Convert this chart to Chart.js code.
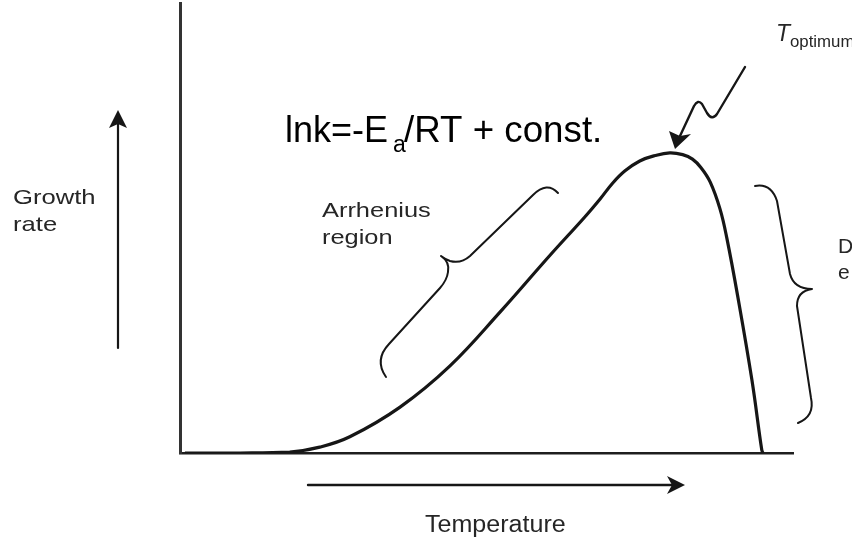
<!DOCTYPE html>
<html>
<head>
<meta charset="utf-8">
<script src="https://cdn.jsdelivr.net/npm/chart.js@4.4.1/dist/chart.umd.min.js"></script>
<style>
html,body{margin:0;padding:0;background:#fff;}
#wrap{width:852px;height:540px;position:relative;}
</style>
</head>
<body>
<div id="wrap"><canvas id="c" width="852" height="540"></canvas></div>
<script>
// ---- data (arbitrary units) ----
const temperature = [0.8, 9.8, 17.9, 22.8, 27.7, 35.9, 44.0, 52.2, 60.4, 66.0, 68.5, 70.6, 72.6, 75.0, 77.5, 79.9, 82.0, 83.6, 85.0, 86.5, 88.1, 89.2, 91.0, 93.3, 94.9, 95.1];
const growthRate  = [0.0, 0.0, 0.2, 1.3, 3.6, 10.2, 19.3, 31.3, 44.0, 52.4, 56.4, 60.0, 62.7, 64.9, 66.1, 66.7, 66.3, 65.3, 63.4, 60.2, 54.2, 47.8, 34.7, 16.2, 0.7, 0.0];
const xAxisLabel = "Temperature";
const yAxisLabel = ["Growth", "rate"];
const regionLabel = ["Arrhenius", "region"];
const equationParts = ["lnk=-E", "a", "/RT + const."];
const optimumParts = ["T", "optimum"];
const rightLabel = ["D", "e"];

const INK = '#161616';
const SCAN_FONT = '"Liberation Sans", Arial, Helvetica, sans-serif';

function stroke(ctx, fn, w) {
  ctx.save();
  ctx.strokeStyle = INK; ctx.lineWidth = w || 2.2; ctx.lineCap = 'round'; ctx.lineJoin = 'round';
  ctx.beginPath(); fn(ctx); ctx.stroke();
  ctx.restore();
}
function head(ctx, pts) {
  ctx.save(); ctx.fillStyle = INK; ctx.beginPath();
  ctx.moveTo(pts[0][0], pts[0][1]);
  for (let i = 1; i < pts.length; i++) ctx.lineTo(pts[i][0], pts[i][1]);
  ctx.closePath(); ctx.fill(); ctx.restore();
}
function text(ctx, s, x, y, size, opts) {
  opts = opts || {};
  ctx.save();
  ctx.fillStyle = opts.color || '#262626';
  ctx.font = (opts.style || '') + ' ' + size + 'px ' + SCAN_FONT;
  ctx.textBaseline = 'alphabetic';
  ctx.translate(x, y);
  ctx.scale(opts.sx || 1, 1);
  ctx.fillText(s, 0, 0);
  ctx.restore();
}

const decorations = {
  id: 'decorations',
  afterDraw(chart) {
    const ctx = chart.ctx;
    // vertical "Growth rate" arrow
    stroke(ctx, c => { c.moveTo(118, 348); c.lineTo(118, 122); }, 2.2);
    head(ctx, [[118, 110], [127, 128], [118, 124], [109, 128]]);
    // horizontal "Temperature" arrow
    stroke(ctx, c => { c.moveTo(308, 485); c.lineTo(672, 485); }, 2.4);
    head(ctx, [[685, 485], [667, 476], [672, 485], [667, 494]]);

    // Arrhenius brace
    stroke(ctx, c => {
      c.moveTo(558, 193);
      c.quadraticCurveTo(547, 181, 533, 195);
      c.lineTo(470, 256);
      c.quadraticCurveTo(461, 264, 450, 261);
      c.quadraticCurveTo(445, 259, 441, 256);
      c.moveTo(441, 256);
      c.quadraticCurveTo(450, 262, 448, 272);
      c.quadraticCurveTo(447, 280, 440, 288);
      c.lineTo(389, 344);
      c.quadraticCurveTo(374, 360, 386, 377);
    }, 2);

    // right brace
    stroke(ctx, c => {
      c.moveTo(755, 186);
      c.quadraticCurveTo(771, 183, 777, 201);
      c.lineTo(790, 274);
      c.quadraticCurveTo(794, 289, 812, 289);
      c.moveTo(812, 289);
      c.quadraticCurveTo(797, 291, 797, 306);
      c.lineTo(811, 398);
      c.quadraticCurveTo(815, 416, 798, 423);
    }, 2);

    // T optimum arrow (zig-zag)
    stroke(ctx, c => {
      c.moveTo(745, 67);
      c.lineTo(717, 114);
      c.quadraticCurveTo(712, 121, 707, 113);
      c.lineTo(702, 104);
      c.quadraticCurveTo(698, 99, 694, 106);
      c.lineTo(680, 136);
    }, 2.4);
    head(ctx, [[675, 149], [669, 131], [680, 136], [691, 134]]);

    // labels
    text(ctx, yAxisLabel[0], 13, 204, 21, { sx: 1.22 });
    text(ctx, yAxisLabel[1], 13, 231, 21, { sx: 1.22 });
    text(ctx, regionLabel[0], 322, 217, 21, { sx: 1.21 });
    text(ctx, regionLabel[1], 322, 244, 21, { sx: 1.21 });
    text(ctx, xAxisLabel, 425, 532, 23, { sx: 1.09 });
    text(ctx, rightLabel[0], 838, 253, 21, {});
    text(ctx, rightLabel[1], 838, 279, 21, {});
    text(ctx, optimumParts[0], 776, 41, 23, { style: 'italic' });
    text(ctx, optimumParts[1], 790, 47, 16, { sx: 1.05 });

    // equation
    text(ctx, equationParts[0], 285, 142, 36, { color: '#000' });
    text(ctx, equationParts[1], 393, 152, 23, { color: '#000' });
    text(ctx, equationParts[2], 404, 142, 36, { color: '#000', sx: 1.02 });
  }
};

new Chart(document.getElementById('c'), {
  type: 'scatter',
  data: {
    datasets: [{
      data: temperature.map((t, i) => ({ x: t, y: growthRate[i] })),
      showLine: true,
      borderColor: INK,
      borderWidth: 3.2,
      pointRadius: 0,
      tension: 0.4,
      fill: false
    }]
  },
  options: {
    responsive: false,
    animation: false,
    devicePixelRatio: 1,
    layout: { padding: { left: 180, right: 59, top: 3, bottom: 87 } },
    plugins: { legend: { display: false }, tooltip: { enabled: false } },
    scales: {
      x: {
        type: 'linear', min: 0, max: 100,
        ticks: { display: false },
        grid: { display: false, drawTicks: false },
        border: { display: true, color: '#1e1e1e', width: 2.5 }
      },
      y: {
        type: 'linear', min: 0, max: 100,
        ticks: { display: false },
        grid: { display: false, drawTicks: false },
        border: { display: true, color: '#333', width: 3 }
      }
    }
  },
  plugins: [decorations]
});
</script>
</body>
</html>
